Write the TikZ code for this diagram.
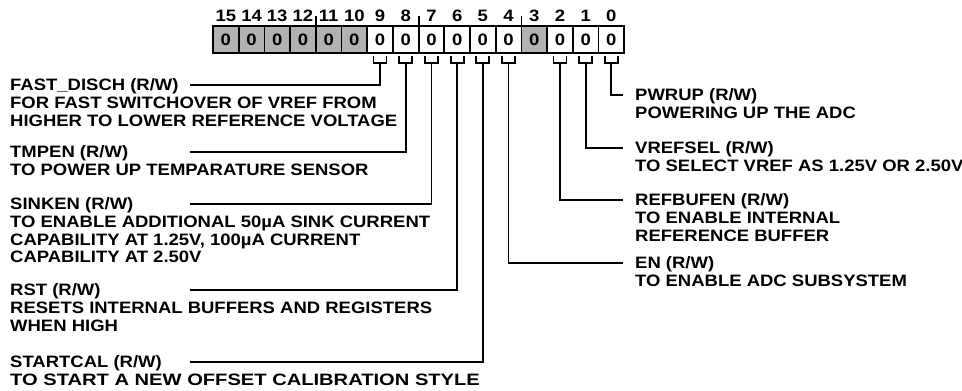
\documentclass[tikz,border=0pt]{standalone}
\usepackage{fontspec}
\newfontfamily\lblfont{Liberation Sans Bold}[FakeStretch=1.12]
\newfontfamily\lblwidefont{Liberation Sans Bold}[FakeStretch=1.22]
\usetikzlibrary{calc}
\definecolor{cellgray}{RGB}{178,178,178}
\begin{document}
\begin{tikzpicture}[x=1pt,y=-1pt,
  wire/.style={line width=1.8pt},
  cellbox/.style={draw, line width=1.8pt, minimum width=25.7pt, minimum height=26.7pt,
    inner sep=0pt, outer sep=0pt, fill=white,
    font=\lblfont\fontsize{16.5}{18}\selectfont},
  graycell/.style={cellbox, fill=cellgray},
  bitnum/.style={anchor=base, inner sep=0pt, font=\lblfont\fontsize{16.5}{18}\selectfont},
  lbl/.style={anchor=base west, inner sep=0pt, font=\lblfont\fontsize{16.5}{18}\selectfont},
  lblwide/.style={lbl, font=\lblwidefont\fontsize{16.5}{18}\selectfont}
]
\useasboundingbox (0,0) rectangle (962,391);

% register cells
\foreach \i in {15,...,0}{
  \pgfmathsetmacro{\cx}{213+(15-\i+0.5)*25.7}
  \ifnum\i>9
    \node[graycell] (cell\i) at (\cx,39.35) {0};
  \else\ifnum\i=3
    \node[graycell] (cell\i) at (\cx,39.35) {0};
  \else
    \node[cellbox] (cell\i) at (\cx,39.35) {0};
  \fi\fi
  \node[bitnum] (num\i) at ($(cell\i.north)+(0,-4.2)$) {\i};
}

% nibble ticks
\foreach \i in {12,8,4}{
  \draw[wire] (cell\i.north east) -- ++(0,-10);
}

% brackets under used bits
\foreach \i in {9,8,7,6,5,4,2,1,0}{
  \coordinate (br\i) at ($(cell\i.south)+(0,10)$);
  \draw[wire] ($(br\i)+(-6.5,-6.7)$) -- ($(br\i)+(-6.5,0)$) -- ($(br\i)+(6.5,0)$) -- ($(br\i)+(6.5,-6.7)$);
}

% connector ends
\coordinate (eFD) at (190,85);
\coordinate (eTM) at (190,151.7);
\coordinate (eSK) at (190,204);
\coordinate (eRS) at (190,290);
\coordinate (eSC) at (190,361.7);
\coordinate (eEN) at (623,262.7);
\coordinate (eRB) at (623,200);
\coordinate (eVS) at (623,147.7);
\coordinate (ePW) at (623,95);

\draw[wire] (br9) |- (eFD);
\draw[wire] (br8) |- (eTM);
\draw[wire] (br7) |- (eSK);
\draw[wire] (br6) |- (eRS);
\draw[wire] (br5) |- (eSC);
\draw[wire] (br4) |- (eEN);
\draw[wire] (br2) |- (eRB);
\draw[wire] (br1) |- (eVS);
\draw[wire] (br0) |- (ePW);

% left labels
\node[lbl] (fd1) at (10,90.9) {FAST\_DISCH (R/W)};
\node[lbl] (fd2) at (10,108.5) {FOR FAST SWITCHOVER OF VREF FROM};
\node[lbl] (fd3) at (10,126.1) {HIGHER TO LOWER REFERENCE VOLTAGE};

\node[lbl] (tm1) at (10,157.6) {TMPEN (R/W)};
\node[lbl] (tm2) at (10,175.2) {TO POWER UP TEMPARATURE SENSOR};

\node[lbl] (sk1) at (10,209.9) {SINKEN (R/W)};
\node[lbl] (sk2) at (10,227.5) {TO ENABLE ADDITIONAL 50µA SINK CURRENT};
\node[lbl] (sk3) at (10,245.1) {CAPABILITY AT 1.25V, 100µA CURRENT};
\node[lbl] (sk4) at (10,262.7) {CAPABILITY AT 2.50V};

\node[lbl] (rs1) at (10,295.9) {RST (R/W)};
\node[lbl] (rs2) at (10,313.5) {RESETS INTERNAL BUFFERS AND REGISTERS};
\node[lbl] (rs3) at (10,331.1) {WHEN HIGH};

\node[lbl] (sc1) at (10,367.6) {STARTCAL (R/W)};
\node[lblwide] (sc2) at (10,385.2) {TO START A NEW OFFSET CALIBRATION STYLE};

% right labels
\node[lbl] (pw1) at (635,100.9) {PWRUP (R/W)};
\node[lbl] (pw2) at (635,118.7) {POWERING UP THE ADC};

\node[lbl] (vs1) at (635,153.6) {VREFSEL (R/W)};
\node[lbl] (vs2) at (635,171.4) {TO SELECT VREF AS 1.25V OR 2.50V};

\node[lbl] (rb1) at (635,205.9) {REFBUFEN (R/W)};
\node[lbl] (rb2) at (635,223.7) {TO ENABLE INTERNAL};
\node[lbl] (rb3) at (635,241.5) {REFERENCE BUFFER};

\node[lbl] (en1) at (635,268.6) {EN (R/W)};
\node[lbl] (en2) at (635,286.4) {TO ENABLE ADC SUBSYSTEM};
\end{tikzpicture}
\end{document}
